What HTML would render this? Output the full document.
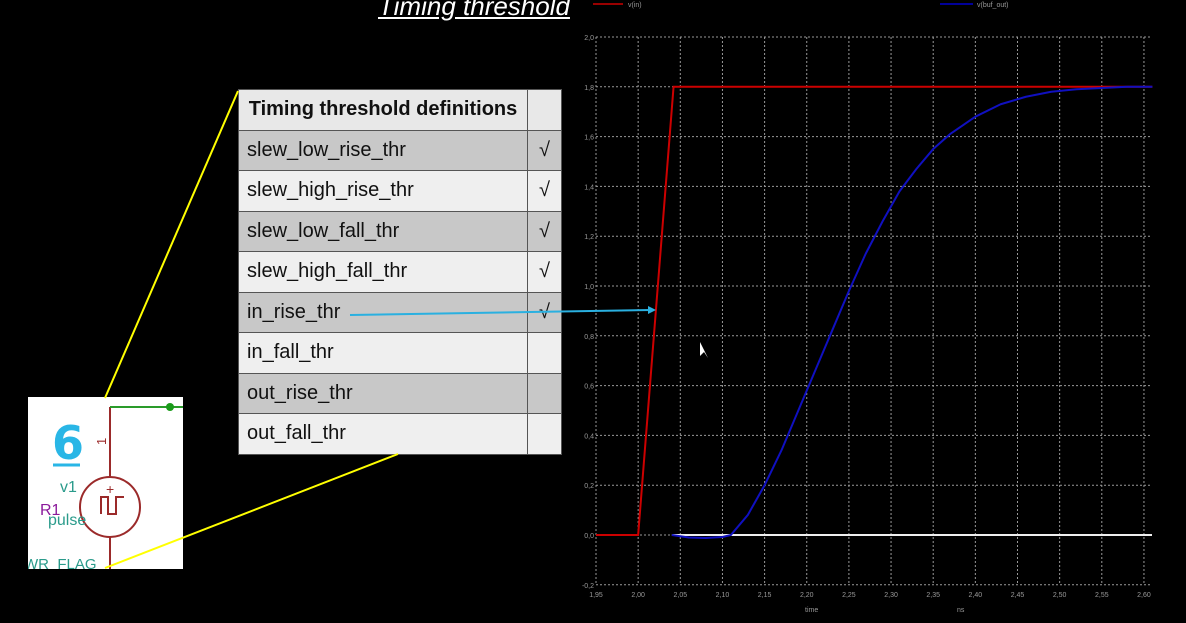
<!DOCTYPE html>
<html><head><meta charset="utf-8"><style>
body{margin:0;background:#000;width:1186px;height:623px;overflow:hidden;position:relative;font-family:"Liberation Sans",sans-serif}
#title{position:absolute;left:378px;top:-9px;color:#fff;font-size:26px;font-style:italic;text-decoration:underline;white-space:nowrap}
table{position:absolute;left:238px;top:89px;border-collapse:collapse;font-size:20px;font-family:"Liberation Sans Narrow","Liberation Sans",sans-serif}
td{border:1px solid #555;height:39.5px;padding:0 8px;color:#111;vertical-align:middle}
td.c{width:17px;text-align:center}
</style></head><body>
<div id="title">Timing threshold</div>
<table>
<tr style="background:#e8e8e8"><td style="width:272px;font-weight:bold;text-align:center">Timing threshold definitions</td><td class="c"></td></tr>
<tr style="background:#c8c8c8"><td>slew_low_rise_thr</td><td class="c">√</td></tr>
<tr style="background:#efefef"><td>slew_high_rise_thr</td><td class="c">√</td></tr>
<tr style="background:#c8c8c8"><td>slew_low_fall_thr</td><td class="c">√</td></tr>
<tr style="background:#efefef"><td>slew_high_fall_thr</td><td class="c">√</td></tr>
<tr style="background:#c8c8c8"><td>in_rise_thr</td><td class="c">√</td></tr>
<tr style="background:#efefef"><td>in_fall_thr</td><td class="c"></td></tr>
<tr style="background:#c8c8c8"><td>out_rise_thr</td><td class="c"></td></tr>
<tr style="background:#efefef"><td>out_fall_thr</td><td class="c"></td></tr>
</table>
<div style="position:absolute;left:28px;top:397px;width:155px;height:172px;background:#fff;overflow:hidden">
<svg width="155" height="172" style="position:absolute;left:0;top:0">
<line x1="82" y1="10" x2="82" y2="80" stroke="#9b2a2a" stroke-width="2"/>
<line x1="82" y1="10" x2="155" y2="10" stroke="#2a9b2a" stroke-width="2"/>
<circle cx="142" cy="10" r="4" fill="#1a9b1a"/>
<text x="70" y="48" fill="#9b2a2a" font-size="13" transform="rotate(-90 74 44)">1</text>
<circle cx="82" cy="110" r="30" fill="none" stroke="#9b2a2a" stroke-width="2"/>
<line x1="82" y1="140" x2="82" y2="172" stroke="#9b2a2a" stroke-width="2"/>
<polyline points="73,117 73,100 80,100 80,117 88,117 88,100 96,100" fill="none" stroke="#9b2a2a" stroke-width="2"/>
<text x="78" y="97" fill="#9b2a2a" font-size="14">+</text>
<text x="24" y="62" fill="#29b6e6" font-size="46" font-weight="bold" font-family="DejaVu Sans">6</text>
<line x1="25" y1="68" x2="52" y2="68" stroke="#29b6e6" stroke-width="3"/>
<text x="32" y="95" fill="#2a9b8b" font-size="16">v1</text>
<text x="12" y="118" fill="#8b1a9b" font-size="16">R1</text>
<text x="20" y="128" fill="#2a9b8b" font-size="16">pulse</text>
<text x="-4" y="172" fill="#2a9b8b" font-size="15">WR_FLAG</text>
</svg></div>
<svg id="chart" width="1186" height="623" style="position:absolute;left:0;top:0">
<line x1="238" y1="91" x2="105" y2="398" stroke="#ff0" stroke-width="2"/>
<line x1="105" y1="568" x2="398" y2="454" stroke="#ff0" stroke-width="2"/>
<g id="plot"></g>
</svg>
<script>
const xTicks=[1.95,2.00,2.05,2.10,2.15,2.20,2.25,2.30,2.35,2.40,2.45,2.50,2.55,2.60];
const yTicks=[-0.2,0,0.2,0.4,0.6,0.8,1.0,1.2,1.4,1.6,1.8,2.0];
const inT=[1.95,2.00,2.042,2.61];
const inV=[0,0,1.8,1.8];
const outT=[2.04,2.06,2.08,2.10,2.11,2.13,2.15,2.17,2.19,2.21,2.23,2.25,2.27,2.29,2.31,2.33,2.35,2.37,2.40,2.43,2.46,2.49,2.52,2.55,2.58,2.61];
const outV=[0,-0.01,-0.012,-0.008,0,0.08,0.2,0.34,0.5,0.66,0.82,0.98,1.13,1.26,1.38,1.47,1.55,1.61,1.68,1.73,1.76,1.78,1.79,1.795,1.8,1.8];
const X=t=>596+(t-1.95)/0.05*42.15;
const Y=v=>535-v/0.2*49.8;
const ns='http://www.w3.org/2000/svg';
const g=document.getElementById('plot');
function mk(tag,a,p){const e=document.createElementNS(ns,tag);for(const k in a)e.setAttribute(k,a[k]);(p||g).appendChild(e);return e;}
xTicks.forEach(t=>{const l=mk('line',{x1:X(t),x2:X(t),y1:Y(2.0),y2:Y(-0.2),stroke:'#999','stroke-dasharray':'2,2','stroke-width':1});


const tx=mk('text',{x:X(t),y:597,fill:'#999','font-size':7,'text-anchor':'middle'});tx.textContent=t.toFixed(2).replace('.',',');

});
yTicks.forEach(v=>{const l=mk('line',{x1:596,x2:1152,y1:Y(v),y2:Y(v),stroke:'#999','stroke-dasharray':'2,2','stroke-width':1});


const tx=mk('text',{x:594,y:Y(v)+3,fill:'#999','font-size':7,'text-anchor':'end'});tx.textContent=v.toFixed(1).replace('.',',');

});
const z=mk('line',{x1:X(2.04),x2:1152,y1:Y(0),y2:Y(0),stroke:'#eee','stroke-width':2});


const pin=mk('polyline',{points:inT.map((t,i)=>X(t)+','+Y(inV[i])).join(' '),fill:'none',stroke:'#c00','stroke-width':2});


const pout=mk('polyline',{points:outT.map((t,i)=>X(t)+','+Y(outV[i])).join(' '),fill:'none',stroke:'#1010c0','stroke-width':2,'stroke-linejoin':'round'});


const l1=mk('line',{x1:593,x2:623,y1:4,y2:4,stroke:'#900','stroke-width':2});


const t1=mk('text',{x:628,y:7,fill:'#999','font-size':7});t1.textContent='v(in)';


const l2=mk('line',{x1:940,x2:973,y1:4,y2:4,stroke:'#009','stroke-width':2});


const t2=mk('text',{x:977,y:7,fill:'#999','font-size':7});t2.textContent='v(buf_out)';


const xt=mk('text',{x:805,y:612,fill:'#999','font-size':7});xt.textContent='time';


const xu=mk('text',{x:957,y:612,fill:'#999','font-size':7});xu.textContent='ns';


const ar=mk('line',{x1:350,x2:652,y1:315,y2:310,stroke:'#2ab0e0','stroke-width':2});


mk('polygon',{points:'656,310 648,306 648,314',fill:'#2ab0e0'});
mk('polygon',{points:'700,342 700,356 704,352 708,358',fill:'#fff'});
</script>
</body></html>
